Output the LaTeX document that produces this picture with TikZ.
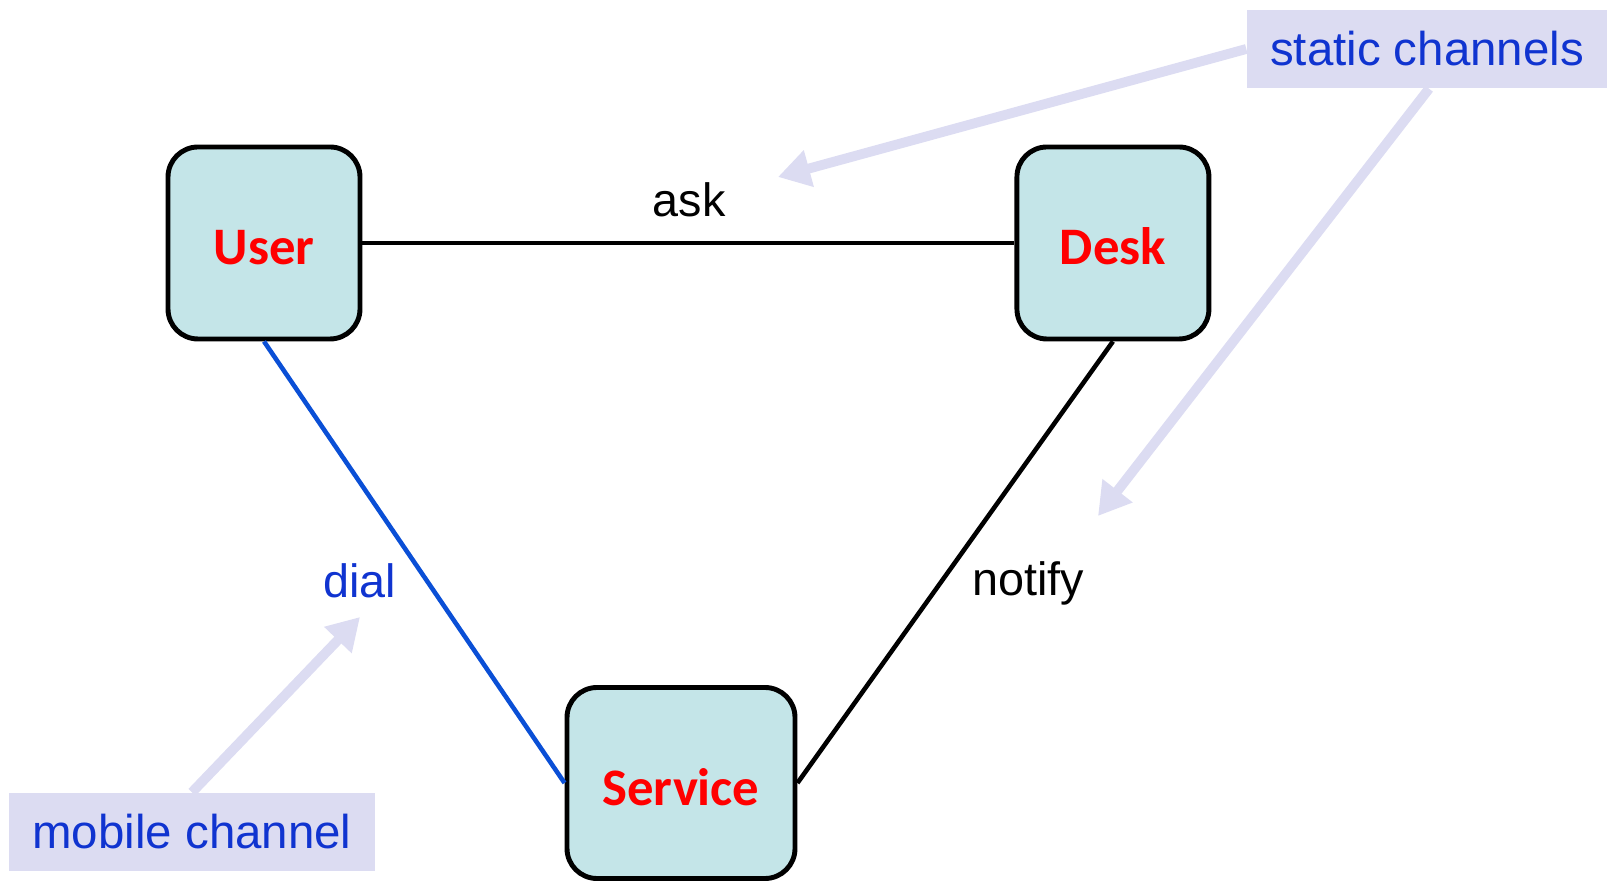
\documentclass[tikz,border=0pt]{standalone}
\usepackage{fontspec}
\setmainfont{Liberation Sans}
\newfontfamily\boxfont{Carlito}
\usepackage{tikz}
\usetikzlibrary{arrows.meta,positioning}

\definecolor{boxfill}{HTML}{C4E5E8}
\definecolor{notefill}{HTML}{DCDCF2}
\definecolor{noteblue}{HTML}{1034D0}
\definecolor{mobileblue}{HTML}{0A4FD6}

\begin{document}
\begin{tikzpicture}[
    agent/.style={rectangle, draw, line width=1.4pt, rounded corners=0.3cm, fill=boxfill, minimum width=1.92cm, minimum height=1.92cm, text height=0.44cm, text depth=0cm, font=\boxfont\fontsize{15}{18}\selectfont\bfseries, text=red},
    note/.style={rectangle, fill=notefill, minimum width=3.6cm, minimum height=0.78cm, inner sep=0pt, font=\fontsize{13.5}{16}\selectfont, text=noteblue},
    chan/.style={font=\fontsize{13.3}{16}\selectfont},
    link/.style={line width=1.3pt},
    hint/.style={-{Triangle[length=0.32cm, width=0.36cm]}, line width=2.8pt, draw=notefill, shorten >=0pt}
]
\useasboundingbox (0,0) rectangle (16.12,8.81);

% agents
\node[agent] (user) at (2.64,6.38) {User};
\node[agent, right=6.52cm of user] (desk) {Desk};
\node[agent, minimum width=2.28cm, minimum height=1.91cm] (service) at (6.81,0.98) {Service};

% channels
\draw[link] (user.east) -- (desk.west);
\draw[link, draw=mobileblue] (user.south) -- (service.west);
\draw[link] (desk.south) -- (service.east);

\node[chan] (ask) at (6.89,6.81) {ask};
\node[chan, text=noteblue] (dial) at (3.60,3.00) {dial};
\node[chan] (notify) at (10.28,2.98) {notify};

% notes
\node[note] (static) at (14.27,8.32) {static channels};
\node[note, minimum width=3.66cm] (mobile) at (1.92,0.49) {mobile channel};

\coordinate (askTip) at (7.78,7.04);
\coordinate (notifyTip) at (10.98,3.65);
\coordinate (dialTip) at (3.60,2.64);

\draw[hint] (static.west) -- (askTip);
\draw[hint] ([xshift=0.02cm]static.south) -- (notifyTip);
\draw[hint] (mobile.north) -- (dialTip);

\end{tikzpicture}
\end{document}
